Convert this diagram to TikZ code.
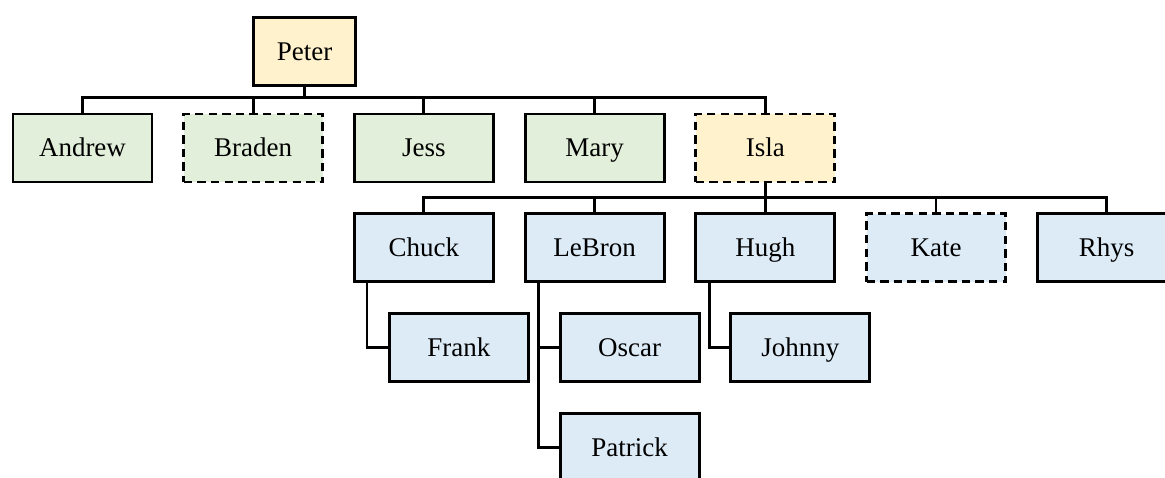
\documentclass[tikz,border=0pt]{standalone}
\usepackage{fontspec}
\setmainfont{Liberation Serif}
\usepackage{xcolor}
\usetikzlibrary{positioning}
\definecolor{famgreen}{RGB}{226,239,218}
\definecolor{famyellow}{RGB}{255,242,204}
\definecolor{famblue}{RGB}{221,235,247}

\begin{document}
\begin{tikzpicture}[x=0.5pt, y=-0.5pt, node distance=14.4pt, line width=1.45pt,
  font=\fontsize{13.5}{16}\selectfont]
  \tikzset{person/.style={draw, align=center, minimum width=69.5pt, minimum height=34pt, inner sep=2pt,
      text height=8.9pt, text depth=0pt},
    gen1/.style={person, fill=famyellow},
    gen2/.style={person, fill=famgreen},
    gen3/.style={person, fill=famblue},
    unsure/.style={dash pattern=on 4.2pt off 2.6pt}}
  \useasboundingbox (0,0) rectangle (1165,477);
  \node[gen1, minimum width=51pt] (peter) at (304.5,51.5) {Peter};
  \node[gen2] (andrew) at (82.5,148) {Andrew};
  \node[gen2, unsure, right=of andrew] (braden) {Braden};
  \node[gen2, right=of braden] (jess) {Jess};
  \node[gen2, right=of jess] (mary) {Mary};
  \node[gen1, unsure, right=of mary] (isla) {Isla};
  \node[gen3, below=of jess] (chuck) {Chuck};
  \node[gen3, below=of mary] (lebron) {LeBron};
  \node[gen3, below=of isla] (hugh) {Hugh};
  \node[gen3, unsure, right=of hugh] (kate) {Kate};
  \node[gen3, right=of kate] (rhys) {Rhys};
  \node[gen3, below=of chuck, xshift=17.5pt] (frank) {Frank};
  \node[gen3, below=of lebron, xshift=17.5pt] (oscar) {Oscar};
  \node[gen3, below=of oscar] (patrick) {Patrick};
  \node[gen3, below=of hugh, xshift=17.5pt] (johnny) {Johnny};
  % family lines
  \foreach \c in {andrew,braden,jess,mary,isla}
    \draw (peter.south) |- ([yshift=7.5pt]\c.north) -- (\c.north);
  \foreach \c in {chuck,lebron,hugh,kate,rhys}
    \draw (isla.south) |- ([yshift=7.5pt]\c.north) -- (\c.north);
  \draw ([xshift=7pt]chuck.south west) |- (frank.west);
  \draw ([xshift=7.5pt]lebron.south west) |- (oscar.west);
  \draw ([xshift=7.5pt]lebron.south west) |- (patrick.west);
  \draw ([xshift=7.5pt]hugh.south west) |- (johnny.west);
\end{tikzpicture}
\end{document}
